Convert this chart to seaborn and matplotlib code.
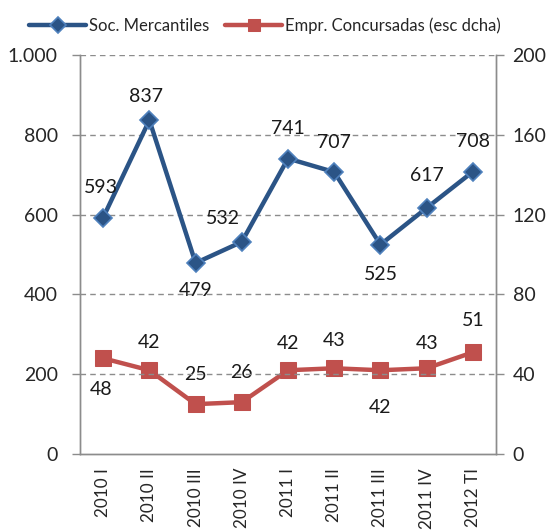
import numpy as np
import matplotlib
matplotlib.use("Agg")
import matplotlib.pyplot as plt
from matplotlib.ticker import FuncFormatter, FixedLocator
import pandas as pd
import seaborn as sns

# datos
periodos = ["2010 I", "2010 II", "2010 III", "2010 IV", "2011 I",
            "2011 II", "2011 III", "2011 IV", "2012 TI"]
soc_mercantiles = [593, 837, 479, 532, 741, 707, 525, 617, 708]
empr_concursadas = [48, 42, 25, 26, 42, 43, 42, 43, 51]

nombre_azul = "Soc. Mercantiles"
nombre_rojo = "Empr. Concursadas (esc dcha)"

df = pd.DataFrame({"pos": range(len(periodos)),
                   "soc": soc_mercantiles,
                   "emp": empr_concursadas})

# desplazamiento de las etiquetas (pixeles)
off_azul = [(-2, 30), (-3, 24), (0, -28), (-19, 23), (0, 30),
            (0, 30), (0, -30), (0, 32), (0, 30)]
off_rojo = [(-2, -31), (0, 28), (0, 30), (0, 30), (0, 27),
            (0, 28), (0, -37), (0, 25), (0, 32)]

sns.set_style("white")
plt.rcParams["font.family"] = ["Lato", "DejaVu Sans"]

azul = "#2B5486"
azul_borde = "#4F81BD"
rojo = "#C0504D"
gris = "#8C8C8C"
fs = 14

fig = plt.figure(figsize=(5.56, 5.31), dpi=100)
ax = fig.add_axes([0.144, 0.145, 0.748, 0.751])
ax2 = ax.twinx()

sns.lineplot(data=df, x="pos", y="soc", ax=ax, color=azul, linewidth=3.2,
             marker="D", markersize=9, markeredgecolor=azul_borde,
             markeredgewidth=1.2, label=nombre_azul, legend=False, zorder=3)
sns.lineplot(data=df, x="pos", y="emp", ax=ax2, color=rojo, linewidth=3.2,
             marker="s", markersize=11, markeredgecolor=rojo,
             label=nombre_rojo, legend=False, zorder=3)

ax.set_xlim(-0.5, len(periodos) - 0.5)
ax.set_ylim(0, 1000)
ax2.set_ylim(0, 200)
ax.set_yticks([0, 200, 400, 600, 800, 1000])
ax2.set_yticks([0, 40, 80, 120, 160, 200])
ax.yaxis.set_major_formatter(FuncFormatter(lambda v, p: f"{int(v):,}".replace(",", ".")))

ax.set_xticks(range(len(periodos)))
ax.set_xticklabels(periodos, rotation=90)
ax.xaxis.set_minor_locator(FixedLocator(np.arange(-0.5, len(periodos), 1)))
ax.tick_params(axis="x", which="major", length=0, pad=10, labelsize=12.3)
ax.tick_params(axis="x", which="minor", length=6, color=gris, width=1)
ax.tick_params(axis="y", length=6, color=gris, width=1, labelsize=fs, pad=10)
ax2.tick_params(axis="y", length=6, color=gris, width=1, labelsize=fs, pad=6)

for a in (ax, ax2):
    a.set_xlabel("")
    a.set_ylabel("")
    a.spines["top"].set_visible(False)
    for s in ("left", "right", "bottom"):
        a.spines[s].set_color(gris)
        a.spines[s].set_linewidth(1)

for v in [200, 400, 600, 800, 1000]:
    ax.axhline(v, color=gris, linestyle=(0, (4, 3)), linewidth=1, zorder=0)

ax.set_zorder(ax2.get_zorder() + 1)
ax.patch.set_visible(False)

for i, v in enumerate(soc_mercantiles):
    ax.annotate(str(v), (i, v), xytext=off_azul[i], textcoords="offset pixels",
                ha="center", va="center", fontsize=fs, color="#1a1a1a")
for i, v in enumerate(empr_concursadas):
    ax2.annotate(str(v), (i, v), xytext=off_rojo[i], textcoords="offset pixels",
                 ha="center", va="center", fontsize=fs, color="#1a1a1a")

h1, l1 = ax.get_legend_handles_labels()
h2, l2 = ax2.get_legend_handles_labels()
fig.legend(h1 + h2, l1 + l2, loc="center", bbox_to_anchor=(0.477, 0.952),
           ncol=2, frameon=False, fontsize=12, handlelength=3.4,
           handletextpad=0.2, columnspacing=0.95, markerscale=0.85)

fig.savefig("out.png", dpi=100)
